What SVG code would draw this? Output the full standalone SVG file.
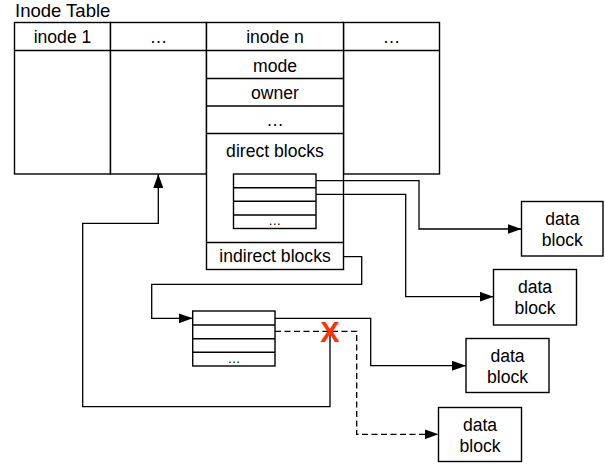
<svg xmlns="http://www.w3.org/2000/svg" width="605" height="467" viewBox="0 0 605 467">
  <style>
    .box { fill: #ffffff; stroke: #000000; stroke-width: 1.4; }
    .sep { fill: none; stroke: #000000; stroke-width: 1.4; }
    .lbl { font-family: "Liberation Sans", Arial, sans-serif; font-size: 17.6px; fill: #000000; text-anchor: middle; }
    .small { font-family: "Liberation Sans", Arial, sans-serif; font-size: 13px; fill: #000000; text-anchor: middle; }
    .wire { fill: none; stroke: #000000; stroke-width: 1.3; }
    .dash { stroke-dasharray: 6 3.5; }
    .cross { font-family: "Liberation Sans", Arial, sans-serif; font-weight: bold; font-size: 29px; fill: #ff3300; text-anchor: middle; }
  </style>
  <defs>
    <marker id="arrow" markerUnits="userSpaceOnUse" markerWidth="14" markerHeight="10" refX="14" refY="5" orient="auto">
      <path d="M0,0 L14,5 L0,10 z" fill="#000000"/>
    </marker>
  </defs>

  <rect width="605" height="467" fill="#ffffff"/>

  <text class="lbl" x="15" y="16.7" style="text-anchor:start; font-size:18.5px">Inode Table</text>

  <!-- inode table -->
  <g id="inode-1">
    <rect class="box" x="14.5" y="22.5" width="96" height="151.5"/>
    <line class="sep" x1="14.5" y1="50.5" x2="110.5" y2="50.5"/>
    <text class="lbl" x="62.5" y="43">inode 1</text>
  </g>
  <g id="inode-gap-left">
    <rect class="box" x="110.5" y="22.5" width="96" height="151.5"/>
    <line class="sep" x1="110.5" y1="50.5" x2="206.5" y2="50.5"/>
    <text class="lbl" x="158.5" y="43">…</text>
  </g>
  <g id="inode-gap-right">
    <rect class="box" x="343.5" y="22.5" width="96" height="151.5"/>
    <line class="sep" x1="343.5" y1="50.5" x2="439.5" y2="50.5"/>
    <text class="lbl" x="391.5" y="43">…</text>
  </g>
  <g id="inode-n">
    <rect class="box" x="206.5" y="22.5" width="137" height="247"/>
    <line class="sep" x1="206.5" y1="50.5" x2="343.5" y2="50.5"/>
    <line class="sep" x1="206.5" y1="78.5" x2="343.5" y2="78.5"/>
    <line class="sep" x1="206.5" y1="106" x2="343.5" y2="106"/>
    <line class="sep" x1="206.5" y1="133.5" x2="343.5" y2="133.5"/>
    <line class="sep" x1="206.5" y1="242.5" x2="343.5" y2="242.5"/>
    <text class="lbl" x="275" y="43">inode n</text>
    <text class="lbl" x="275" y="71.5">mode</text>
    <text class="lbl" x="275" y="98.5">owner</text>
    <text class="lbl" x="275" y="125.5">…</text>
    <text class="lbl" x="275" y="156.5">direct blocks</text>
    <text class="lbl" x="275" y="261.5">indirect blocks</text>
  </g>

  <!-- pointer lists -->
  <g id="direct-list">
    <rect class="box" x="233.5" y="174" width="82.5" height="54.5"/>
    <line class="sep" x1="233.5" y1="187.7" x2="316" y2="187.7"/>
    <line class="sep" x1="233.5" y1="201.3" x2="316" y2="201.3"/>
    <line class="sep" x1="233.5" y1="215" x2="316" y2="215"/>
    <text class="small" x="274.7" y="225">…</text>
  </g>
  <g id="indirect-list">
    <rect class="box" x="192.7" y="311" width="82.3" height="55"/>
    <line class="sep" x1="192.7" y1="325" x2="275" y2="325"/>
    <line class="sep" x1="192.7" y1="338.7" x2="275" y2="338.7"/>
    <line class="sep" x1="192.7" y1="352.3" x2="275" y2="352.3"/>
    <text class="small" x="234" y="362.5">…</text>
  </g>

  <!-- data blocks -->
  <g id="data-block-1">
    <rect class="box" x="521.5" y="201.5" width="81.5" height="54.5"/>
    <text class="lbl" x="562.3" y="225">data</text>
    <text class="lbl" x="562.3" y="245.7">block</text>
  </g>
  <g id="data-block-2">
    <rect class="box" x="493.5" y="269.5" width="83" height="55.5"/>
    <text class="lbl" x="535" y="293">data</text>
    <text class="lbl" x="535" y="313.7">block</text>
  </g>
  <g id="data-block-3">
    <rect class="box" x="466" y="338.5" width="83" height="54"/>
    <text class="lbl" x="507.5" y="362">data</text>
    <text class="lbl" x="507.5" y="382.7">block</text>
  </g>
  <g id="data-block-4">
    <rect class="box" x="438.5" y="407.5" width="83" height="54"/>
    <text class="lbl" x="480" y="431">data</text>
    <text class="lbl" x="480" y="451.7">block</text>
  </g>

  <!-- connectors -->
  <g id="connectors">
    <path class="wire" d="M316,180.7 H419 V229 H521.5" marker-end="url(#arrow)"/>
    <path class="wire" d="M316,194.3 H405.7 V296.7 H493.5" marker-end="url(#arrow)"/>
    <path class="wire" d="M343.5,256.7 H361.7 V284.3 H151.7 V318.3 H192.7" marker-end="url(#arrow)"/>
    <path class="wire" d="M275,318.3 H370.7 V365.7 H466" marker-end="url(#arrow)"/>
    <path class="wire dash" d="M275,331.3 H356.7 V434.3 H438.5" marker-end="url(#arrow)"/>
    <path class="wire" d="M330,334 V406.7 H82.7 V223.3 H158.3 V174" marker-end="url(#arrow)"/>
    <text class="cross" x="330" y="342">X</text>
  </g>
</svg>
